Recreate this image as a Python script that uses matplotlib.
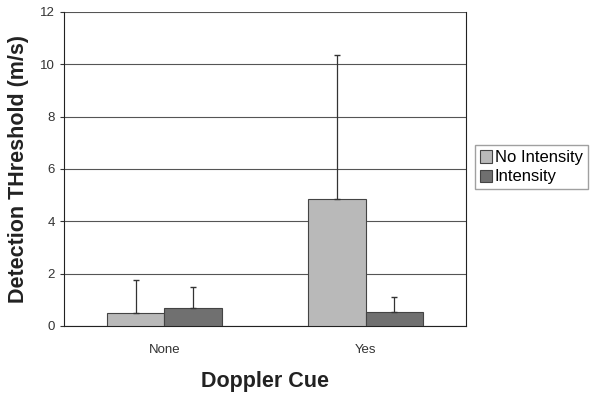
import numpy as np
import matplotlib
matplotlib.use("Agg")
import matplotlib.pyplot as plt

plt.rcParams['font.family'] = ['Liberation Sans', 'DejaVu Sans']

categories = ["None", "Yes"]
no_intensity = [0.5, 4.85]
no_intensity_err = [1.25, 5.5]
intensity = [0.7, 0.55]
intensity_err = [0.8, 0.55]

fig = plt.figure(figsize=(5.91, 3.94), dpi=100)
ax = fig.add_axes([0.108, 0.1726, 0.681, 0.797])

x = np.arange(len(categories))
w = 0.285
ax.bar(x - w / 2, no_intensity, w, color="#b9b9b9", edgecolor="#444444", linewidth=0.8,
       yerr=[np.zeros(len(x)), no_intensity_err], error_kw=dict(ecolor="#333333", elinewidth=0.9, capsize=2.5),
       label="No Intensity", zorder=3)
ax.bar(x + w / 2, intensity, w, color="#707070", edgecolor="#444444", linewidth=0.8,
       yerr=[np.zeros(len(x)), intensity_err], error_kw=dict(ecolor="#333333", elinewidth=0.9, capsize=2.5),
       label="Intensity", zorder=3)

ax.set_xlim(-0.5, 1.5)
ax.set_ylim(0, 12)
ax.set_yticks(range(0, 13, 2))
ax.set_xticks(x)
ax.set_xticklabels(categories)
ax.tick_params(axis="x", length=0, pad=13, labelsize=9.5, colors="#333333")
ax.tick_params(axis="y", length=3, labelsize=9.5, colors="#333333")
ax.grid(axis="y", color="#555555", linewidth=0.8, zorder=0)
ax.spines["top"].set_visible(False)
for s in ["left", "right", "bottom"]:
    ax.spines[s].set_color("#222222")
ax.set_xlabel("Doppler Cue", fontsize=15.5, fontweight="bold", labelpad=11, color="#222222")
ax.set_ylabel("Detection THreshold (m/s)", fontsize=15.5, fontweight="bold", labelpad=8, color="#222222")

ax.legend(loc="center left", bbox_to_anchor=(1.0, 0.505), frameon=True, fancybox=False,
          edgecolor="#888888", fontsize=12, handlelength=0.75, handleheight=0.75,
          handletextpad=0.15, borderpad=0.3, labelspacing=0.25, borderaxespad=0.5)

fig.savefig("out.png", dpi=100)
